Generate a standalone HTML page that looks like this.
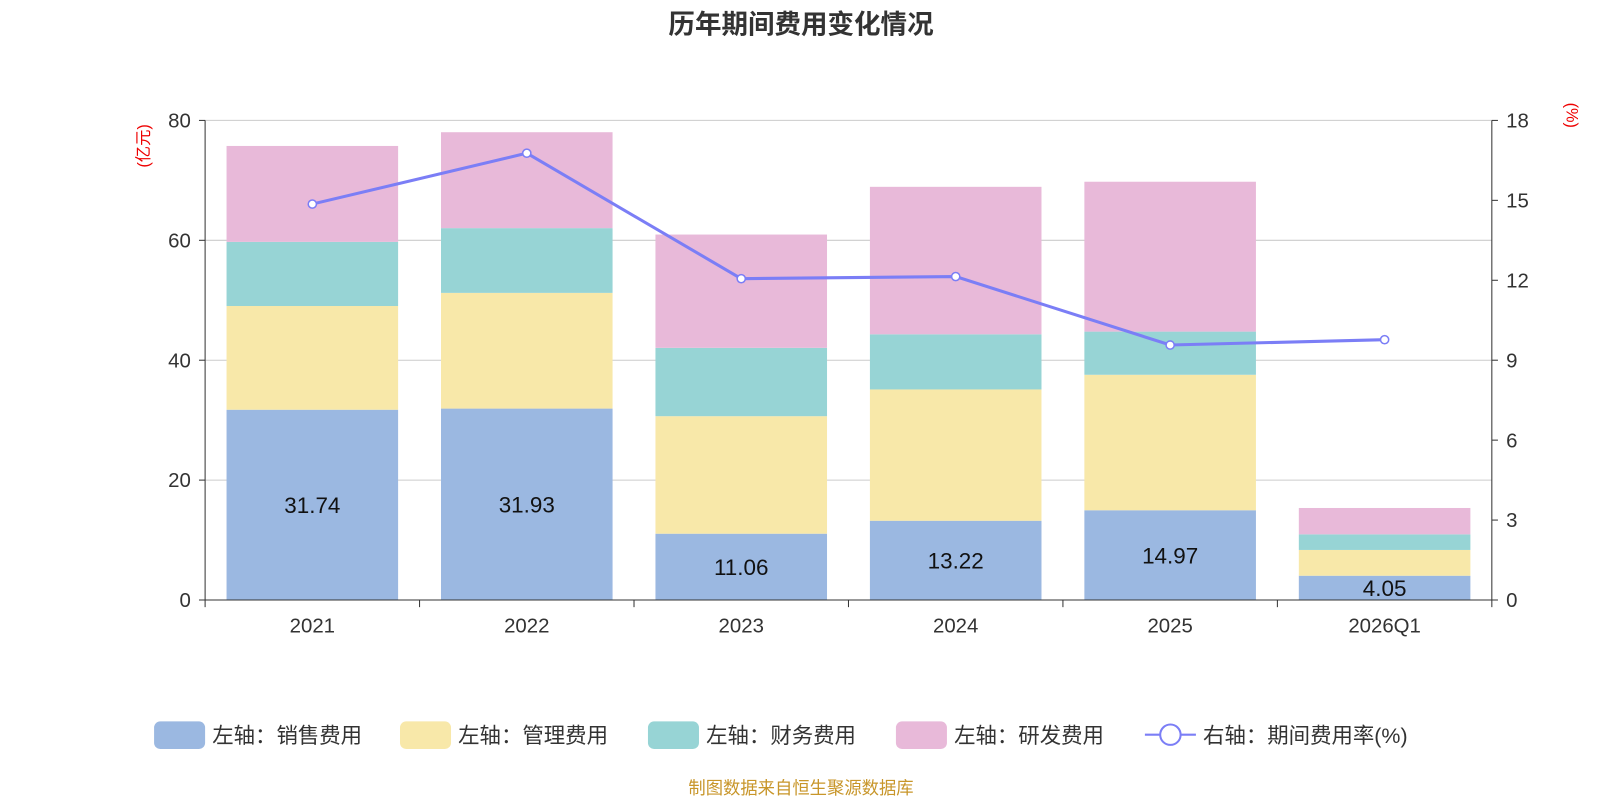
<!DOCTYPE html>
<html><head><meta charset="utf-8"><style>
body{margin:0;background:#fff;font-family:"Liberation Sans","Noto Sans CJK SC",sans-serif}
svg{display:block}
svg text{font-family:"Liberation Sans","Noto Sans CJK SC",sans-serif}
</style></head><body>
<svg id="c" width="1600" height="800" viewBox="0 0 1568 784" xmlns="http://www.w3.org/2000/svg">
<text x="785" y="33" text-anchor="middle" font-size="26" font-weight="bold" fill="#333">历年期间费用变化情况</text>
<text transform="translate(146,143) rotate(-90)" text-anchor="middle" font-size="16" fill="#e00">(亿元)</text>
<text transform="translate(1535,113) rotate(90)" text-anchor="middle" font-size="16" fill="#e00">(%)</text>
<g id="grid"></g><g id="bars"></g><g id="axes"></g><g id="line"></g>
<g id="legend" font-size="21" fill="#333">
<rect x="151" y="707" width="50" height="27" rx="6" fill="#9bb8e1"/><text x="208" y="728">左轴：销售费用</text>
<rect x="392" y="707" width="50" height="27" rx="6" fill="#f8e8a9"/><text x="449" y="728">左轴：管理费用</text>
<rect x="635" y="707" width="50" height="27" rx="6" fill="#97d4d5"/><text x="692" y="728">左轴：财务费用</text>
<rect x="878" y="707" width="50" height="27" rx="6" fill="#e8b9d9"/><text x="935" y="728">左轴：研发费用</text>
<line x1="1122" y1="720" x2="1172" y2="720" stroke="#7b7ef6" stroke-width="2"/><circle cx="1147" cy="720" r="10" fill="#fff" stroke="#7b7ef6" stroke-width="2"/><text x="1179" y="728">右轴：期间费用率(%)</text>
</g>
<text x="785" y="778" text-anchor="middle" font-size="17" fill="#c8962a">制图数据来自恒生聚源数据库</text>
</svg>
<script>
const categories=["2021","2022","2023","2024","2025","2026Q1"];
const sales=[31.74,31.93,11.06,13.22,14.97,4.05];
const admin=[17.3,19.3,19.6,21.9,22.6,4.3];
const finance=[10.7,10.8,11.4,9.2,7.2,2.6];
const rd=[16.0,16.0,18.9,24.6,25.0,4.4];
const rate=[14.86,16.77,12.06,12.14,9.57,9.77];
const leftTicks=[0,20,40,60,80];
const rightTicks=[0,3,6,9,12,15,18];
const NS="http://www.w3.org/2000/svg";
const x0=201,x1=1462,y0=588,y1=118;
const band=(x1-x0)/categories.length;
const yL=v=>y0-(v/80)*(y0-y1);
const yR=v=>y0-(v/18)*(y0-y1);
const xC=i=>x0+band*(i+0.5);
function mk(t,a,p){const e=document.createElementNS(NS,t);for(const k in a)e.setAttribute(k,a[k]);document.getElementById(p).appendChild(e);return e;}
leftTicks.forEach(v=>{
 if(v>0){const g=mk('line',{x1:x0,x2:x1,y1:yL(v),y2:yL(v),stroke:'#ccc','stroke-width':1},'grid');
 
 }
 const t=mk('text',{x:x0-14,y:yL(v)+7,'text-anchor':'end','font-size':20,fill:'#333'},'axes');t.textContent=v;
 
 
 const tk=mk('line',{x1:x0-6,x2:x0,y1:yL(v),y2:yL(v),stroke:'#333'},'axes');
 
 
});
rightTicks.forEach(v=>{
 const t=mk('text',{x:x1+14,y:yR(v)+7,'font-size':20,fill:'#333'},'axes');t.textContent=v;
 
 
 const tk=mk('line',{x1:x1,x2:x1+6,y1:yR(v),y2:yR(v),stroke:'#333'},'axes');
 
 
});
const series=[[sales,'#9bb8e1','sales'],[admin,'#f8e8a9','admin'],[finance,'#97d4d5','finance'],[rd,'#e8b9d9','rd']];
const bw=band*0.8;
categories.forEach((c,i)=>{
 let base=0;
 series.forEach(([arr,col,nm])=>{
  const top=base+arr[i];
  const r=mk('rect',{x:xC(i)-bw/2,y:yL(top),width:bw,height:yL(base)-yL(top),fill:col},'bars');
  
  
  base=top;
 });
 const l=mk('text',{x:xC(i),y:(yL(0)+yL(sales[i]))/2+8,'text-anchor':'middle','font-size':22,fill:'#111'},'bars');l.textContent=sales[i].toFixed(2);
 
 
 const t=mk('text',{x:xC(i),y:y0+32,'text-anchor':'middle','font-size':20,fill:'#333'},'axes');t.textContent=c;
 
 
});
for(let i=0;i<=categories.length;i++){
 const tk=mk('line',{x1:x0+band*i,x2:x0+band*i,y1:y0,y2:y0+7,stroke:'#333'},'axes');
 
 
}
const ax=mk('line',{x1:x0,x2:x1,y1:y0,y2:y0,stroke:'#333'},'axes');


const la=mk('line',{x1:x0,x2:x0,y1:y0,y2:y1,stroke:'#333'},'axes');


const ra=mk('line',{x1:x1,x2:x1,y1:y0,y2:y1,stroke:'#333'},'axes');


const pl=mk('polyline',{points:rate.map((v,i)=>xC(i)+','+yR(v)).join(' '),fill:'none',stroke:'#7b7ef6','stroke-width':3},'line');


rate.forEach((v,i)=>{
 const p=mk('circle',{cx:xC(i),cy:yR(v),r:4,fill:'#fff',stroke:'#7b7ef6','stroke-width':1.5},'line');
 
 
});
</script>
</body></html>
